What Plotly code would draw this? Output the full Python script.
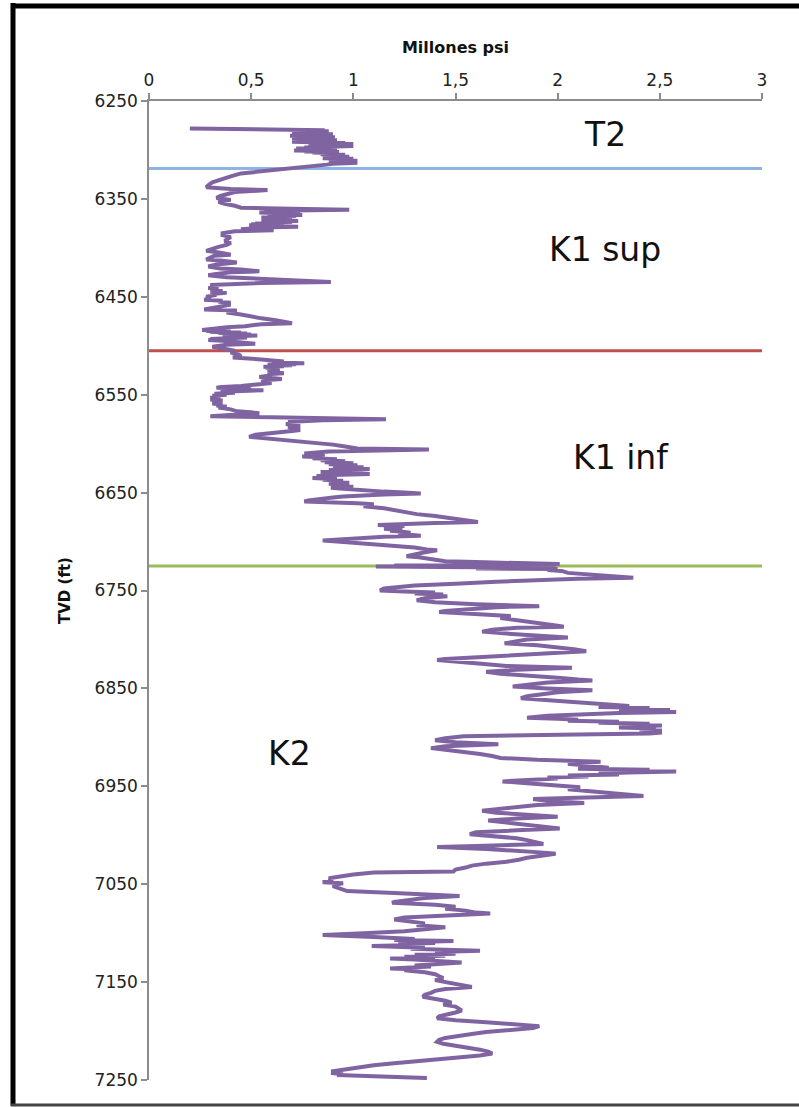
import plotly.graph_objects as go

# Well log: true vertical depth (ft) vs. modulus (millions of psi), split by formation

t2_depth = [
    6278, 6279, 6280, 6280.5, 6281, 6281.5, 6282, 6282.5, 6283, 6283.5,
    6284, 6284.5, 6285, 6285.5, 6286, 6286.5, 6287, 6287.5, 6288, 6288.5,
    6289, 6289.5, 6290, 6290.5, 6291, 6291.5, 6292, 6292.5, 6293, 6293.5,
    6294, 6294.5, 6295, 6295.5, 6296, 6296.5, 6297, 6297.5, 6298, 6298.5,
    6299, 6299.5, 6300, 6300.5, 6301, 6301.5, 6302, 6302.5, 6303, 6304,
    6304.5, 6305, 6305.5, 6306, 6306.5, 6307, 6307.5, 6308, 6308.5, 6309,
    6309.5, 6310, 6310.5, 6311, 6311.5, 6312, 6312.5, 6313, 6313.5, 6314,
    6315, 6316, 6317, 6318, 6319, 6320,
]
t2_mod = [
    0.20, 0.59, 0.86, 0.72, 0.88, 0.74, 0.86, 0.70, 0.84, 0.76,
    0.90, 0.72, 0.82, 0.69, 0.86, 0.74, 0.91, 0.78, 0.84, 0.70,
    0.88, 0.76, 0.92, 0.72, 0.80, 0.70, 0.88, 0.78, 0.96, 0.80,
    1.00, 0.86, 0.98, 0.78, 1.00, 0.84, 0.94, 0.76, 0.88, 0.72,
    0.92, 0.78, 0.86, 0.71, 0.90, 0.76, 0.93, 0.80, 0.88, 0.92,
    0.84, 0.96, 0.86, 0.94, 0.88, 0.98, 0.90, 0.96, 0.85, 1.00,
    0.88, 0.98, 0.90, 1.02, 0.92, 0.98, 0.88, 1.02, 0.94, 0.90,
    0.87, 0.82, 0.78, 0.72, 0.68, 0.62,
]

k1sup_depth = [
    6322, 6324, 6327, 6330, 6333, 6336, 6338, 6340, 6341, 6343,
    6345, 6347, 6349, 6351, 6353, 6355, 6357, 6359, 6360, 6361,
    6362, 6362.5, 6363, 6363.5, 6364, 6364.5, 6365, 6365.5, 6366, 6366.5,
    6367, 6367.5, 6368, 6368.5, 6369, 6369.5, 6370, 6370.5, 6371, 6371.5,
    6372, 6372.5, 6373, 6373.5, 6374, 6374.5, 6375, 6375.5, 6376, 6376.5,
    6377, 6377.5, 6378, 6378.5, 6379, 6380, 6381, 6382, 6383, 6385,
    6387, 6389, 6391, 6393, 6395, 6397, 6399, 6401, 6403, 6405,
    6407, 6408, 6410, 6412, 6413, 6415, 6417, 6419, 6421, 6422,
    6424, 6425, 6427, 6428, 6430, 6432, 6434, 6435, 6436, 6437,
    6438, 6440, 6441, 6442, 6443, 6444, 6445, 6446, 6447, 6448,
    6450, 6452, 6453, 6454, 6455, 6456, 6457, 6458, 6459, 6461,
    6463, 6464, 6466, 6468, 6470, 6472, 6474, 6476, 6477, 6478,
    6480, 6481, 6483, 6484, 6484.5, 6485, 6485.5, 6486, 6486.5, 6487,
    6487.5, 6488, 6488.5, 6489, 6489.5, 6490, 6490.5, 6491, 6491.5, 6492,
    6492.5, 6493, 6493.5, 6494, 6495, 6496, 6497, 6498, 6499, 6500,
    6501, 6502, 6503, 6504, 6505,
]
k1sup_mod = [
    0.55, 0.45, 0.40, 0.35, 0.31, 0.29, 0.28, 0.40, 0.58, 0.42,
    0.38, 0.35, 0.33, 0.40, 0.34, 0.37, 0.42, 0.45, 0.70, 0.98,
    0.60, 0.72, 0.56, 0.70, 0.54, 0.68, 0.60, 0.74, 0.62, 0.75,
    0.58, 0.72, 0.62, 0.70, 0.55, 0.66, 0.56, 0.64, 0.55, 0.68,
    0.58, 0.73, 0.60, 0.70, 0.56, 0.66, 0.52, 0.62, 0.50, 0.60,
    0.49, 0.64, 0.55, 0.73, 0.60, 0.50, 0.45, 0.61, 0.42, 0.36,
    0.36, 0.40, 0.38, 0.37, 0.40, 0.38, 0.34, 0.30, 0.28, 0.35,
    0.40, 0.32, 0.30, 0.28, 0.35, 0.43, 0.33, 0.29, 0.35, 0.45,
    0.54, 0.40, 0.32, 0.29, 0.38, 0.55, 0.75, 0.89, 0.55, 0.35,
    0.30, 0.34, 0.29, 0.33, 0.30, 0.36, 0.30, 0.38, 0.32, 0.33,
    0.28, 0.30, 0.27, 0.36, 0.34, 0.40, 0.36, 0.40, 0.37, 0.32,
    0.27, 0.43, 0.38, 0.45, 0.49, 0.55, 0.62, 0.68, 0.70, 0.55,
    0.47, 0.38, 0.30, 0.26, 0.34, 0.28, 0.40, 0.30, 0.45, 0.34,
    0.48, 0.36, 0.50, 0.38, 0.53, 0.40, 0.52, 0.36, 0.48, 0.33,
    0.45, 0.30, 0.40, 0.29, 0.36, 0.44, 0.50, 0.52, 0.38, 0.33,
    0.31, 0.34, 0.36, 0.40, 0.42,
]

k1inf_depth = [
    6507, 6509, 6511, 6512, 6514, 6516, 6517, 6518, 6518.5, 6519,
    6519.5, 6520, 6520.5, 6521, 6521.5, 6522, 6522.5, 6523, 6523.5, 6524,
    6525, 6526, 6527, 6528, 6529, 6530, 6531, 6532, 6533, 6534,
    6535, 6536, 6537, 6538, 6539, 6540, 6541, 6542, 6543, 6543.5,
    6544, 6544.5, 6545, 6545.5, 6546, 6546.5, 6547, 6548, 6549, 6550,
    6551, 6552, 6553, 6554, 6555, 6556, 6557, 6558, 6559, 6560,
    6561, 6562, 6563, 6565, 6567, 6568, 6569, 6570, 6571, 6572,
    6573, 6574, 6575, 6576, 6577, 6578, 6579, 6580, 6581, 6582,
    6583, 6584, 6585, 6586, 6587, 6589, 6591, 6593, 6595, 6597,
    6599, 6601, 6603, 6605, 6606, 6607, 6608, 6609, 6610, 6611,
    6612, 6613, 6614, 6615, 6616, 6617, 6618, 6619, 6620, 6621,
    6622, 6623, 6624, 6625, 6626, 6627, 6628, 6629, 6630, 6631,
    6632, 6633, 6634, 6635, 6636, 6637, 6638, 6639, 6640, 6641,
    6642, 6643, 6644, 6645, 6646, 6647, 6648, 6649, 6650, 6651,
    6652, 6653, 6654, 6655, 6656, 6657, 6658, 6659, 6660, 6661,
    6662, 6664, 6666, 6668, 6670, 6672, 6674, 6676, 6678, 6680,
    6681, 6682, 6683, 6684, 6685, 6686, 6687, 6688, 6689, 6690,
    6691, 6692, 6693, 6694, 6695, 6697, 6699, 6700, 6702, 6704,
    6706, 6708, 6709, 6711, 6713, 6715, 6716, 6718, 6720, 6721,
    6722, 6723, 6723.5, 6724, 6724.5,
]
k1inf_mod = [
    0.40, 0.44, 0.45, 0.41, 0.55, 0.66, 0.60, 0.76, 0.62, 0.72,
    0.58, 0.70, 0.60, 0.66, 0.56, 0.63, 0.57, 0.64, 0.58, 0.62,
    0.58, 0.64, 0.60, 0.66, 0.58, 0.60, 0.56, 0.54, 0.60, 0.65,
    0.58, 0.57, 0.55, 0.60, 0.55, 0.53, 0.45, 0.36, 0.33, 0.45,
    0.36, 0.50, 0.38, 0.56, 0.40, 0.52, 0.35, 0.42, 0.32, 0.38,
    0.31, 0.35, 0.30, 0.33, 0.30, 0.36, 0.32, 0.34, 0.31, 0.36,
    0.33, 0.38, 0.34, 0.40, 0.43, 0.50, 0.54, 0.45, 0.36, 0.30,
    0.60, 0.95, 1.16, 0.85, 0.72, 0.68, 0.72, 0.67, 0.70, 0.74,
    0.68, 0.72, 0.70, 0.74, 0.70, 0.60, 0.52, 0.49, 0.60, 0.72,
    0.82, 0.90, 0.96, 1.02, 1.37, 1.00, 0.88, 0.82, 0.76, 0.86,
    0.78, 0.75, 0.85, 0.80, 0.92, 0.84, 0.96, 0.86, 1.00, 0.88,
    1.02, 0.90, 1.05, 0.92, 1.08, 0.88, 1.02, 0.84, 1.00, 1.08,
    0.90, 0.82, 0.92, 0.80, 0.90, 0.85, 0.95, 0.90, 0.98, 0.88,
    0.96, 0.92, 1.00, 0.89, 0.95, 1.00, 1.08, 1.15, 1.25, 1.33,
    1.15, 1.02, 0.95, 0.90, 0.85, 0.80, 0.78, 0.76, 0.95, 1.02,
    1.10, 1.05, 1.15, 1.20, 1.26, 1.31, 1.40, 1.46, 1.55, 1.61,
    1.40, 1.20, 1.12, 1.25, 1.18, 1.24, 1.15, 1.22, 1.18, 1.24,
    1.28, 1.22, 1.30, 1.33, 1.15, 1.00, 0.85, 0.92, 1.04, 1.20,
    1.30, 1.36, 1.41, 1.35, 1.30, 1.26, 1.32, 1.38, 1.45, 1.60,
    1.85, 2.01, 1.50, 1.95, 1.20,
]

k2_depth = [
    6725, 6725.5, 6726, 6726.5, 6727, 6727.5, 6728, 6729, 6730, 6732,
    6735, 6737, 6738, 6739, 6741, 6743, 6745, 6748, 6750, 6751,
    6752, 6753, 6754, 6755, 6756, 6757, 6758, 6760, 6762, 6764,
    6766, 6767, 6769, 6771, 6772, 6774, 6776, 6778, 6780, 6782,
    6784, 6786, 6787, 6788, 6790, 6792, 6794, 6796, 6798, 6800,
    6802, 6804, 6806, 6808, 6810, 6812, 6814, 6816, 6818, 6820,
    6821, 6823, 6825, 6827, 6829, 6831, 6833, 6835, 6837, 6839,
    6841, 6842, 6844, 6846, 6848, 6850, 6852, 6854, 6856, 6858,
    6860, 6862, 6864, 6866, 6868, 6869, 6870, 6871, 6872, 6873,
    6874, 6875, 6876, 6877, 6878, 6879, 6880, 6881, 6882, 6883,
    6884, 6885, 6886, 6887, 6888, 6889, 6890, 6891, 6892, 6893,
    6894, 6895, 6896, 6897, 6898, 6899, 6901, 6903, 6905, 6907,
    6909, 6911, 6913, 6915, 6917, 6919, 6921, 6923, 6925, 6927,
    6929, 6931, 6932, 6933, 6934, 6935, 6936, 6937, 6938, 6939,
    6940, 6941, 6942, 6943, 6945, 6947, 6949, 6951, 6953, 6955,
    6957, 6959, 6960, 6962, 6963, 6965, 6967, 6969, 6971, 6973,
    6975, 6977, 6979, 6981, 6983, 6985, 6987, 6989, 6991, 6993,
    6995, 6997, 6999, 7001, 7003, 7005, 7007, 7009, 7011, 7012,
    7014, 7016, 7018, 7019, 7021, 7023, 7025, 7027, 7029, 7031,
    7033, 7035, 7037, 7038, 7040, 7042, 7044, 7046, 7048, 7049,
    7050, 7052, 7054, 7056, 7057, 7059, 7061, 7062, 7064, 7066,
    7068, 7069, 7071, 7073, 7075, 7077, 7079, 7080, 7082, 7084,
    7086, 7088, 7090, 7092, 7094, 7096, 7098, 7100, 7102, 7104,
    7106, 7107, 7108, 7109, 7110, 7111, 7112, 7113, 7114, 7115,
    7116, 7117, 7118, 7119, 7120, 7121, 7122, 7123, 7124, 7125,
    7126, 7127, 7128, 7129, 7130, 7131, 7132, 7133, 7134, 7135,
    7136, 7137, 7138, 7140, 7142, 7144, 7146, 7148, 7150, 7152,
    7154, 7155, 7157, 7159, 7161, 7163, 7165, 7167, 7169, 7171,
    7173, 7175, 7177, 7179, 7181, 7183, 7185, 7187, 7189, 7191,
    7193, 7195, 7197, 7199, 7201, 7203, 7205, 7207, 7209, 7211,
    7213, 7215, 7217, 7219, 7221, 7223, 7225, 7227, 7229, 7231,
    7233, 7235, 7237, 7239, 7241, 7243, 7244, 7245, 7246, 7247,
    7248,
]
k2_mod = [
    1.98, 1.11, 1.90, 1.30, 1.99, 1.60, 2.00, 1.95, 2.02, 2.05,
    2.25, 2.37, 2.10, 1.91, 1.70, 1.50, 1.30, 1.15, 1.13, 1.25,
    1.40, 1.30, 1.44, 1.38, 1.46, 1.40, 1.35, 1.31, 1.40, 1.60,
    1.91, 1.70, 1.55, 1.45, 1.42, 1.60, 1.77, 1.72, 1.80, 1.88,
    1.95, 2.00, 2.03, 1.80, 1.68, 1.63, 1.75, 1.95, 2.05, 1.85,
    1.78, 1.74, 1.90, 2.00, 2.08, 2.14, 1.95, 1.80, 1.60, 1.45,
    1.41, 1.55, 1.64, 1.75, 2.07, 1.80, 1.65, 1.72, 1.88, 2.00,
    2.10, 2.17, 1.95, 1.85, 1.78, 1.95, 2.17, 2.00, 1.90, 1.85,
    1.82, 1.95, 2.05, 2.20, 2.35, 2.20, 2.45, 2.30, 2.55, 2.40,
    2.58, 2.30, 2.15, 2.05, 1.95, 1.90, 1.85, 2.00, 2.10, 2.05,
    2.30, 2.20, 2.45, 2.35, 2.51, 2.38, 2.30, 2.48, 2.40, 2.51,
    2.42, 2.51, 2.45, 2.10, 1.75, 1.54, 1.45, 1.40, 1.50, 1.71,
    1.45, 1.38, 1.46, 1.55, 1.62, 1.68, 1.72, 1.90, 2.21, 2.05,
    2.15, 2.25, 2.10, 2.45, 2.30, 2.58, 2.35, 2.20, 2.30, 2.05,
    2.15, 1.95, 2.00, 1.88, 1.73, 1.85, 2.00, 2.11, 2.05, 2.15,
    2.30, 2.38, 2.42, 2.05, 1.88, 1.95, 2.13, 1.90, 1.80, 1.72,
    1.63, 1.70, 1.85, 2.00, 1.80, 1.66, 1.75, 1.85, 1.95, 2.01,
    1.80, 1.60, 1.57, 1.70, 1.80, 1.85, 1.90, 1.93, 1.60, 1.41,
    1.65, 1.85, 1.95, 1.99, 1.90, 1.85, 1.81, 1.75, 1.65, 1.58,
    1.55, 1.50, 1.49, 1.10, 1.00, 0.92, 0.88, 0.90, 0.85, 0.95,
    0.92, 0.90, 0.93, 0.96, 0.97, 1.20, 1.40, 1.52, 1.35, 1.25,
    1.20, 1.19, 1.40, 1.50, 1.45, 1.55, 1.60, 1.67, 1.40, 1.25,
    1.20, 1.30, 1.35, 1.31, 1.45, 1.35, 1.25, 1.05, 0.85, 1.10,
    1.30, 1.20, 1.49, 1.30, 1.40, 1.22, 1.30, 1.09, 1.25, 1.35,
    1.28, 1.50, 1.62, 1.45, 1.40, 1.50, 1.30, 1.45, 1.25, 1.40,
    1.18, 1.30, 1.35, 1.45, 1.53, 1.42, 1.40, 1.30, 1.38, 1.25,
    1.18, 1.30, 1.25, 1.35, 1.40, 1.42, 1.44, 1.40, 1.45, 1.50,
    1.55, 1.58, 1.45, 1.40, 1.38, 1.35, 1.34, 1.40, 1.45, 1.48,
    1.44, 1.50, 1.52, 1.53, 1.50, 1.45, 1.42, 1.41, 1.50, 1.65,
    1.80, 1.91, 1.88, 1.75, 1.65, 1.58, 1.50, 1.45, 1.42, 1.41,
    1.44, 1.50, 1.58, 1.62, 1.66, 1.68, 1.62, 1.50, 1.40, 1.29,
    1.20, 1.10, 1.02, 0.96, 0.90, 0.90, 0.95, 0.92, 1.10, 1.25,
    1.36,
]

depth_ft = t2_depth + k1sup_depth + k1inf_depth + k2_depth
modulus_mpsi = t2_mod + k1sup_mod + k1inf_mod + k2_mod
assert len(depth_ft) == len(modulus_mpsi)

# Formation tops (ft) and zone labels
tops_ft = [6319, 6505, 6725]
top_colors = ["#8DB4E2", "#C0504D", "#9BBB59"]
zone_names = ["T2", "K1 sup", "K1 inf", "K2"]
zone_label_x = [2.23, 2.23, 2.31, 0.69]
zone_label_depth = [6284, 6402, 6614, 6916]

x_range = [0, 3]
x_ticks = [0, 0.5, 1, 1.5, 2, 2.5, 3]
y_ticks = list(range(6250, 7251, 100))

W, H = 799, 1107
L, R, T, B = 149, 37, 101, 27

fig = go.Figure()

for top, col in zip(tops_ft, top_colors):
    fig.add_trace(go.Scatter(
        x=x_range, y=[top, top], mode="lines",
        line=dict(color=col, width=3), hoverinfo="skip", showlegend=False,
    ))

fig.add_trace(go.Scatter(
    x=modulus_mpsi, y=depth_ft, mode="lines",
    line=dict(color="#8064A2", width=4), showlegend=False,
))

for name, xv, dv in zip(zone_names, zone_label_x, zone_label_depth):
    fig.add_annotation(
        x=xv, y=dv, text=name, showarrow=False,
        font=dict(family="DejaVu Sans", size=33, color="#111111"),
        xanchor="center", yanchor="middle",
    )

# Frame around the whole figure, expressed in paper coordinates
pw, ph = W - L - R, H - T - B


def px_x(p):
    return (p - L) / pw


def px_y(p):
    return (H - B - p) / ph


fig.add_shape(type="line", xref="paper", yref="paper",
              x0=px_x(13), x1=px_x(13), y0=px_y(3), y1=px_y(1106),
              line=dict(color="black", width=5), layer="above")
fig.add_shape(type="line", xref="paper", yref="paper",
              x0=px_x(11), x1=px_x(802), y0=px_y(6), y1=px_y(6),
              line=dict(color="black", width=5), layer="above")
fig.add_shape(type="line", xref="paper", yref="paper",
              x0=px_x(11), x1=px_x(802), y0=px_y(1105), y1=px_y(1105),
              line=dict(color="#444444", width=3), layer="above")

axis_font = dict(family="DejaVu Sans", size=17, color="#222222")

fig.update_layout(
    width=W, height=H,
    margin=dict(l=L, r=R, t=T, b=B),
    paper_bgcolor="white", plot_bgcolor="white",
    separators=",.",
    showlegend=False,
    xaxis=dict(
        side="top", range=x_range, tickvals=x_ticks,
        showgrid=False, zeroline=False,
        showline=True, linecolor="#8C8C8C", linewidth=1.5,
        ticks="outside", ticklen=6, tickcolor="#8C8C8C", tickwidth=1.5,
        tickfont=axis_font,
        title=dict(text="<b>Millones psi</b>", standoff=13,
                   font=dict(family="DejaVu Sans", size=16, color="#111111")),
    ),
    yaxis=dict(
        range=[7250, 6250], tickvals=y_ticks,
        showgrid=False, zeroline=False,
        showline=True, linecolor="#8C8C8C", linewidth=1.5,
        ticks="outside", ticklen=6, tickcolor="#8C8C8C", tickwidth=1.5,
        tickfont=axis_font,
        title=dict(text="<b>TVD (ft)</b>", standoff=20,
                   font=dict(family="DejaVu Sans", size=15, color="#111111")),
    ),
)

fig.write_html("out.html")
